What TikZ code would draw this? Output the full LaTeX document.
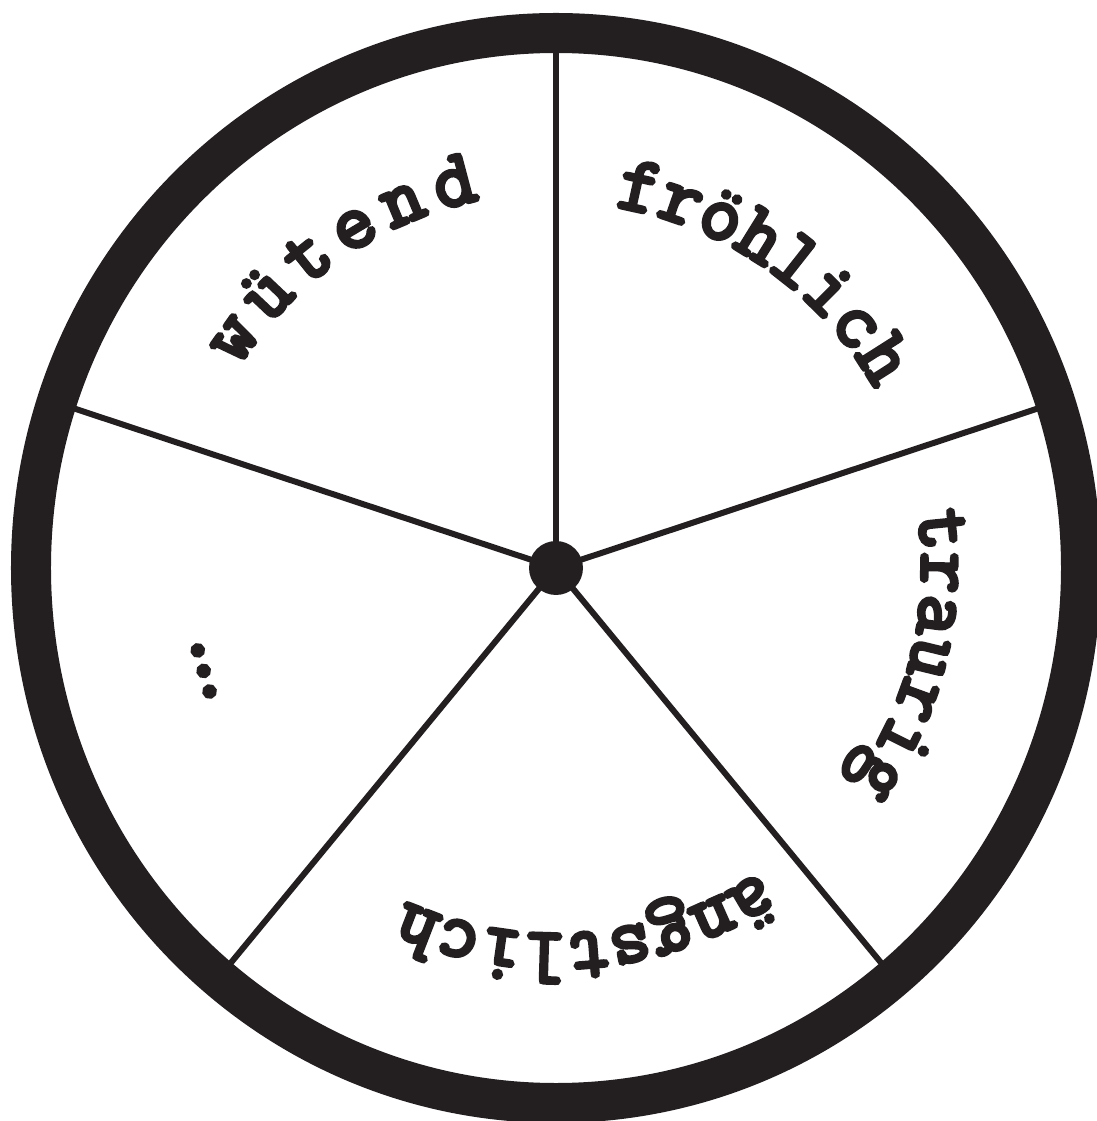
\documentclass[tikz,border=0pt]{standalone}
\usepackage{fontspec}
\newfontfamily\tw{Latin Modern Mono}[FakeBold=5]
\usetikzlibrary{decorations.text}
\definecolor{ink}{HTML}{231F20}
\tikzset{
  spoke/.style={draw=ink, line width=6pt},
  ring/.style={draw=ink, line width=40pt},
  hubdot/.style={circle, fill=ink, minimum size=54pt, inner sep=0pt},
  word/.style={decorate, decoration={text along path, text align=center, text color=ink, text={|\tw\fontsize{80}{82}\selectfont|#1}}},
}
\begin{document}
\begin{tikzpicture}[x=1pt,y=1pt]
\useasboundingbox (-556,-553) rectangle (540,568);
% spoke ends on the ring
\coordinate (r1) at (0,525);
\coordinate (r2) at ({525*cos(18)},{535*sin(18)});
\coordinate (r3) at ({525*cos(162)},{535*sin(162)});
\coordinate (r4) at ({525*cos(-50)},{535*sin(-50)});
\coordinate (r5) at ({525*cos(-130)},{535*sin(-130)});
\node[hubdot] (hub) at (0,0) {};
\foreach \r in {r1,r2,r3,r4,r5} \draw[spoke] (hub.center) -- (\r);
\draw[ring] (0,0) ellipse [x radius=525, y radius=535];
% words
\path[word={wütend}, decoration={text align={fit to path}}] (147.7:376) arc[start angle=147.7, end angle=101.7, radius=376];
\path[word={fröhlich}] (95:366) arc[start angle=95, end angle=15, radius=366];
\path[word={traurig}] (26.4:366) arc[start angle=26.4, end angle=-53.6, radius=366];
\path[word={ängstlich}] (-45.3:366) arc[start angle=-45.3, end angle=-125.3, radius=366];
\node[rotate=106, anchor=base, text=ink, inner sep=0pt] (dots) at (196.3:362) {\tw\fontsize{90}{92}\selectfont .\kern-25pt.\kern-25pt.};
\end{tikzpicture}
\end{document}
